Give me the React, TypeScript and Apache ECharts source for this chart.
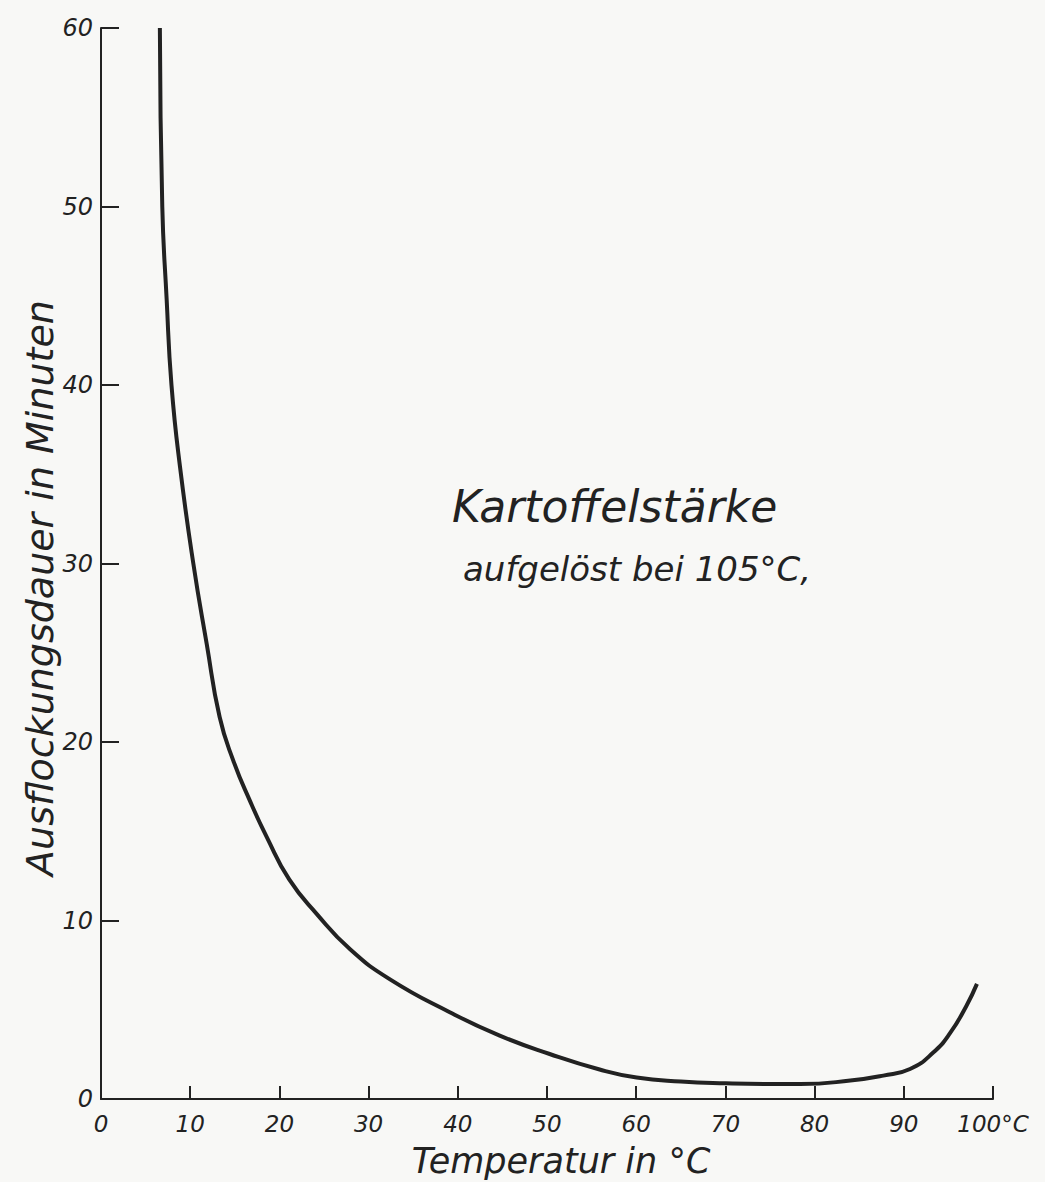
import React, { useEffect, useRef } from "react";
import * as echarts from "echarts";

const temperatures: number[] = [6.6, 6.87, 7.36, 7.9, 8.86, 10.35, 11.85, 13.3, 14.83, 16.7, 18.6, 21.1, 24.2, 27.9, 32.4, 39.1, 44.7, 50.3, 55.9, 60.05, 65, 70, 75, 78.4, 84, 87.7, 90.7, 93.3, 95.2, 97.0, 98.2];
const durations: number[] = [60, 50, 44.8, 40, 35.4, 30, 25.5, 21.4, 18.96, 16.7, 14.66, 12.3, 10.36, 8.4, 6.7, 4.86, 3.55, 2.52, 1.65, 1.2, 0.98, 0.88, 0.84, 0.84, 1.03, 1.31, 1.68, 2.6, 3.7, 5.2, 6.45];
const xTicks: number[] = [0, 10, 20, 30, 40, 50, 60, 70, 80, 90, 100];
const yTicks: number[] = [0, 10, 20, 30, 40, 50, 60];

const FONT = "'DejaVu Sans', 'Liberation Sans', sans-serif";
const INK = "#222";

export default function App() {
  const ref = useRef<HTMLDivElement>(null);
  useEffect(() => {
    document.body.style.margin = "0";
    if (!ref.current) return;
    const chart = echarts.init(ref.current, undefined, { renderer: "svg" });
    chart.setOption({
      animation: false,
      backgroundColor: "#f8f8f6",
      grid: { left: 101, right: 52, top: 28, bottom: 83, containLabel: false, outerBoundsMode: "none" },
      xAxis: {
        type: "value",
        min: xTicks[0],
        max: xTicks[xTicks.length - 1],
        interval: 10,
        axisLine: { show: true, lineStyle: { color: INK, width: 2 } },
        axisTick: { show: true, inside: true, length: 13, lineStyle: { color: INK, width: 2 } },
        splitLine: { show: false },
        axisLabel: {
          fontFamily: FONT,
          fontStyle: "italic",
          fontSize: 23,
          color: INK,
          margin: 13,
          formatter: (v: number) => (v === 100 ? "100°C" : String(v)),
        },
      },
      yAxis: {
        type: "value",
        min: yTicks[0],
        max: yTicks[yTicks.length - 1],
        interval: 10,
        axisLine: { show: true, lineStyle: { color: INK, width: 2 } },
        axisTick: { show: true, inside: true, length: 18, lineStyle: { color: INK, width: 2 } },
        splitLine: { show: false },
        axisLabel: { fontFamily: FONT, fontStyle: "italic", fontSize: 24, color: INK, margin: 8 },
      },
      series: [
        {
          type: "line",
          data: temperatures.map((t, i) => [t, durations[i]]),
          smooth: 0.5,
          showSymbol: false,
          lineStyle: { color: INK, width: 4 },
        },
      ],
      graphic: [
        {
          type: "text",
          x: 40,
          y: 588,
          rotation: Math.PI / 2,
          style: {
            text: "Ausflockungsdauer in Minuten",
            fontFamily: FONT,
            fontStyle: "italic",
            fontSize: 38,
            fill: INK,
            align: "center",
            verticalAlign: "middle",
          },
        },
        {
          type: "text",
          x: 561,
          y: 1161,
          style: {
            text: "Temperatur in °C",
            fontFamily: FONT,
            fontStyle: "italic",
            fontSize: 35,
            fill: INK,
            align: "center",
            verticalAlign: "middle",
          },
        },
        {
          type: "text",
          left: 452,
          top: 484,
          style: { text: "Kartoffelstärke", fontFamily: FONT, fontStyle: "italic", fontSize: 44, fill: INK },
        },
        {
          type: "text",
          left: 463,
          top: 552,
          style: { text: "aufgelöst bei 105°C,", fontFamily: FONT, fontStyle: "italic", fontSize: 34, fill: INK },
        },
      ],
    });
    return () => chart.dispose();
  }, []);
  return <div ref={ref} style={{ width: 1045, height: 1182 }} />;
}
